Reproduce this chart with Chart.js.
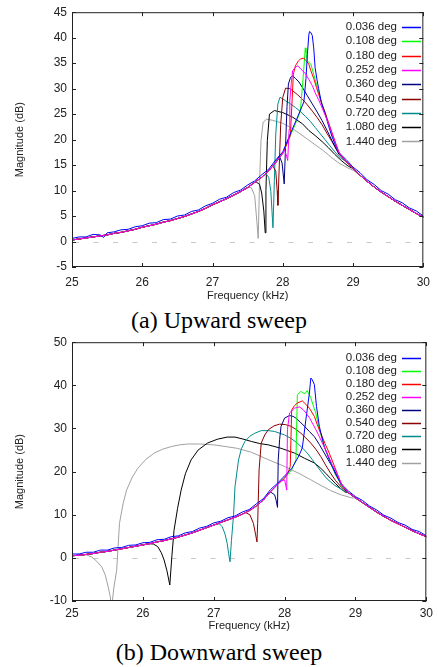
<!DOCTYPE html>
<html>
<head>
<meta charset="utf-8">
<script src="https://cdn.jsdelivr.net/npm/chart.js@4.4.0/dist/chart.umd.min.js"></script>
<style>
  html, body { margin: 0; padding: 0; background: #fff; }
  body { width: 438px; height: 667px; position: relative; overflow: hidden; }
  canvas { position: absolute; left: 0; }
  #up { top: 0; }
  #down { top: 330px; }
  .cap { position: absolute; left: 0; width: 438px; text-align: center; font-family: "Liberation Serif", "Times New Roman", serif; font-size: 24px; line-height: 24px; color: #000; }
</style>
</head>
<body>
<canvas id="up" width="438" height="305"></canvas>
<div class="cap" style="top:308px">(a) Upward sweep</div>
<canvas id="down" width="438" height="305"></canvas>
<div class="cap" style="top:640px">(b) Downward sweep</div>
<script>
// legend labels and colours (gnuplot defaults)
const labels = ["0.036 deg", "0.108 deg", "0.180 deg", "0.252 deg", "0.360 deg", "0.540 deg", "0.720 deg", "1.080 deg", "1.440 deg"];
const colors = ["#0000ff", "#00ff00", "#ff0000", "#ff00ff", "#000080", "#8b0000", "#008b8b", "#000000", "#a0a0a0"];
// draw order (lower = on top)
const drawOrder = [1, 3, 2, 0, 4, 5, 6, 7, 8];

const xTicks = [25, 26, 27, 28, 29, 30];
const upYTicks = [-5, 0, 5, 10, 15, 20, 25, 30, 35, 40, 45];
const downYTicks = [-10, 0, 10, 20, 30, 40, 50];

// ---- (a) upward sweep, [kHz, dB] ----
const upBase = [[25.0,0.3],[25.1,0.5],[25.2,0.7],[25.3,0.9],[25.4,1.1],[25.5,1.3],[25.6,1.6],[25.7,1.8],[25.8,2.1],[25.9,2.4],[26.0,2.8],[26.1,3.1],[26.2,3.4],[26.3,3.8],[26.4,4.1],[26.5,4.5],[26.6,4.9],[26.7,5.4],[26.8,5.9],[26.9,6.5],[27.0,7.2],[27.1,7.8],[27.2,8.4],[27.3,9.1],[27.4,9.8],[27.5,10.6],[27.6,11.6],[27.7,12.6],[27.8,13.9],[27.9,15.5],[28.0,17.3],[28.1,20.5],[28.2,23.8],[28.3,27.4]];
const upTail = [[28.8,17.0],[28.9,15.7],[29.0,14.3],[29.1,13.0],[29.2,11.8],[29.3,10.7],[29.4,9.7],[29.5,8.8],[29.6,7.9],[29.7,7.1],[29.8,6.3],[29.9,5.5],[30.0,4.8]];
const upBlueBase = [[25.0,0.6],[25.1,0.9],[25.2,0.9],[25.3,1.4],[25.4,1.3],[25.45,0.8],[25.5,1.7],[25.6,1.9],[25.7,2.3],[25.8,2.4],[25.9,2.9],[26.0,3.1],[26.1,3.6],[26.2,3.7],[26.3,4.3],[26.4,4.4],[26.5,5.0],[26.6,5.2],[26.7,5.9],[26.8,6.2],[26.9,7.0],[27.0,7.5],[27.1,8.3],[27.2,8.7],[27.3,9.6],[27.4,10.1],[27.5,11.1],[27.6,11.9],[27.7,13.1],[27.8,14.2],[27.9,16.0],[28.0,17.6],[28.1,20.9],[28.2,24.1]];
const upBlueTail = [[28.9,16.1],[29.0,14.6],[29.1,13.5],[29.2,12.1],[29.3,11.2],[29.4,10.0],[29.5,9.3],[29.6,8.2],[29.7,7.6],[29.8,6.6],[29.9,6.0],[30.0,5.0]];

const up036 = [[28.30,27.4],[28.33,32.0],[28.35,36.7],[28.37,40.5],[28.38,41.2],[28.40,41.0],[28.42,40.4],[28.44,38.0],[28.46,34.1],[28.49,31.5],[28.51,30.0],[28.55,27.2],[28.60,25.2],[28.65,22.8],[28.70,20.6],[28.75,18.9],[28.80,17.4]];
const up108 = [[28.25,25.6],[28.29,32.2],[28.32,38.0],[28.33,37.0],[28.35,35.4],[28.40,34.8],[28.44,32.8],[28.48,30.8],[28.51,29.4],[28.55,27.4],[28.60,25.4],[28.65,23.0],[28.70,20.8],[28.75,19.0],[28.80,17.4]];
const up180 = [[28.11,21.4],[28.13,27.0],[28.15,32.8],[28.18,34.5],[28.22,35.4],[28.25,35.8],[28.30,36.0],[28.33,35.5],[28.37,34.8],[28.40,33.5],[28.44,32.0],[28.48,30.2],[28.51,28.9],[28.56,26.8],[28.60,25.4],[28.65,23.4],[28.70,21.4],[28.75,19.4],[28.80,17.5]];
const up252 = [[28.02,18.0],[28.05,17.0],[28.07,15.9],[28.09,22.0],[28.10,27.6],[28.12,31.0],[28.14,33.5],[28.18,34.2],[28.21,34.5],[28.26,33.8],[28.32,33.0],[28.37,31.8],[28.42,30.6],[28.46,29.2],[28.51,27.8],[28.56,26.2],[28.65,23.2],[28.72,20.4],[28.80,17.4]];
const up360 = [[27.95,16.8],[27.99,15.4],[28.02,11.3],[28.04,19.0],[28.06,26.5],[28.08,30.9],[28.11,32.2],[28.14,32.5],[28.18,32.0],[28.23,31.3],[28.28,30.2],[28.35,28.6],[28.42,27.0],[28.49,25.4],[28.56,23.7],[28.63,21.8],[28.70,19.8],[28.80,17.2]];
const up540 = [[27.86,14.8],[27.90,13.8],[27.92,10.0],[27.93,7.1],[27.95,15.0],[27.97,23.0],[28.00,28.3],[28.04,30.1],[28.10,30.0],[28.14,29.6],[28.21,28.8],[28.28,27.9],[28.35,26.8],[28.42,25.6],[28.49,24.3],[28.56,22.9],[28.63,21.2],[28.70,19.6],[28.80,17.1]];
const up720 = [[27.76,13.3],[27.80,12.6],[27.83,9.8],[27.86,2.7],[27.88,12.0],[27.90,21.1],[27.93,27.0],[27.96,28.3],[28.00,28.0],[28.04,27.6],[28.11,27.0],[28.18,26.3],[28.25,25.5],[28.32,24.6],[28.39,23.6],[28.46,22.4],[28.53,21.2],[28.60,20.0],[28.67,18.8],[28.74,17.6],[28.82,16.4]];
const up1080 = [[27.62,11.7],[27.67,11.2],[27.70,9.5],[27.73,6.0],[27.75,1.7],[27.76,10.0],[27.78,19.8],[27.81,25.0],[27.88,25.7],[28.00,25.3],[28.14,24.4],[28.28,23.1],[28.37,21.8],[28.46,20.8],[28.56,19.6],[28.65,18.4],[28.74,17.1],[28.84,15.8],[28.93,14.8]];
const up1440 = [[27.55,10.6],[27.60,9.0],[27.63,4.0],[27.65,0.6],[27.67,12.0],[27.69,19.8],[27.72,23.4],[27.77,24.0],[27.85,23.8],[28.00,23.2],[28.12,22.3],[28.23,21.3],[28.35,20.1],[28.46,19.0],[28.58,17.8],[28.70,16.4],[28.80,15.4],[28.93,14.4],[29.00,14.0]];

// ---- (b) downward sweep, [kHz, dB] ----
const downBase = [[25.0,0.5],[25.1,0.6],[25.2,0.8],[25.3,1.0],[25.4,1.3],[25.5,1.5],[25.6,1.8],[25.7,2.1],[25.8,2.4],[25.9,2.7],[26.0,3.0],[26.1,3.3],[26.2,3.7],[26.3,4.0],[26.4,4.4],[26.5,4.8],[26.6,5.3],[26.7,5.8],[26.8,6.4],[26.9,7.0],[27.0,7.6],[27.1,8.2],[27.2,8.8],[27.3,9.4],[27.4,10.1],[27.5,10.9],[27.6,12.0],[27.7,13.4],[27.8,15.3],[27.9,17.0],[28.0,18.5],[28.1,20.4],[28.2,23.2],[28.3,27.0]];
const downTail = [[28.8,16.4],[28.9,15.1],[29.0,13.9],[29.1,12.8],[29.2,11.7],[29.3,10.6],[29.4,9.6],[29.5,8.7],[29.6,7.9],[29.7,7.1],[29.8,6.3],[29.9,5.6],[30.0,4.9]];
const downBlueBase = [[25.0,0.9],[25.1,0.9],[25.2,1.3],[25.3,1.3],[25.4,1.8],[25.5,1.8],[25.6,2.3],[25.7,2.4],[25.8,2.9],[25.9,3.0],[26.0,3.5],[26.1,3.6],[26.2,4.2],[26.3,4.3],[26.4,4.9],[26.5,5.1],[26.6,5.8],[26.7,6.1],[26.8,6.9],[26.9,7.3],[27.0,8.1],[27.1,8.5],[27.2,9.3],[27.3,9.7],[27.4,10.6],[27.5,11.2],[27.6,12.5],[27.7,13.7],[27.8,15.8],[27.9,17.3],[28.0,19.0],[28.1,20.7],[28.2,23.6]];
const downBlueTail = [[28.9,15.5],[29.0,14.2],[29.1,13.3],[29.2,12.0],[29.3,11.1],[29.4,9.9],[29.5,9.2],[29.6,8.2],[29.7,7.6],[29.8,6.6],[29.9,6.1],[30.0,5.1]];

const down036 = [[28.25,25.5],[28.30,32.0],[28.35,38.2],[28.37,41.7],[28.39,41.3],[28.42,40.2],[28.45,35.1],[28.49,30.5],[28.56,25.8],[28.65,22.0],[28.72,19.4],[28.80,17.1]];
const down108 = [[28.12,21.2],[28.16,22.7],[28.18,37.8],[28.23,38.6],[28.26,38.2],[28.29,38.1],[28.32,38.8],[28.37,37.1],[28.40,35.5],[28.44,33.6],[28.49,29.7],[28.56,25.8],[28.65,22.0],[28.72,19.2],[28.80,17.0]];
const down180 = [[28.05,19.8],[28.08,21.2],[28.10,34.3],[28.14,35.3],[28.18,35.9],[28.25,36.4],[28.30,35.6],[28.35,34.7],[28.42,32.8],[28.46,30.9],[28.51,28.9],[28.57,26.5],[28.63,24.3],[28.70,21.4],[28.75,19.2],[28.80,17.2]];
const down252 = [[27.95,17.8],[28.00,18.1],[28.03,15.7],[28.04,29.7],[28.07,33.6],[28.14,34.7],[28.21,35.0],[28.26,34.4],[28.30,33.6],[28.35,32.5],[28.39,31.3],[28.44,29.8],[28.49,28.1],[28.55,26.0],[28.60,24.3],[28.67,21.7],[28.74,19.6],[28.80,17.2]];
const down360 = [[27.80,15.3],[27.86,14.6],[27.88,13.4],[27.90,11.7],[27.91,22.7],[27.93,27.5],[27.95,30.5],[28.00,32.4],[28.07,33.0],[28.12,32.8],[28.16,32.4],[28.22,31.5],[28.28,30.5],[28.35,29.3],[28.42,28.1],[28.49,26.3],[28.56,24.3],[28.63,22.3],[28.70,20.4],[28.75,18.6],[28.80,16.8]];
const down540 = [[27.45,10.5],[27.51,10.0],[27.56,8.0],[27.59,5.5],[27.61,3.7],[27.62,8.0],[27.64,20.4],[27.67,26.6],[27.72,28.5],[27.77,29.7],[27.85,30.6],[27.93,31.0],[28.01,30.9],[28.09,30.5],[28.16,29.8],[28.23,28.9],[28.30,27.8],[28.37,26.6],[28.44,25.2],[28.51,23.5],[28.58,21.5],[28.65,19.6],[28.72,17.9],[28.80,16.4]];
const down720 = [[26.90,7.0],[27.00,7.6],[27.08,7.9],[27.12,7.2],[27.16,5.5],[27.19,3.3],[27.21,1.0],[27.23,-0.9],[27.25,4.0],[27.28,10.0],[27.30,16.5],[27.35,22.7],[27.39,25.3],[27.44,27.0],[27.51,28.2],[27.58,28.9],[27.67,29.5],[27.77,29.5],[27.86,29.3],[28.00,28.5],[28.09,27.7],[28.18,26.6],[28.25,25.5],[28.32,24.3],[28.39,22.8],[28.46,21.2],[28.53,19.7],[28.60,18.3],[28.70,16.9],[28.80,15.9]];
const down1080 = [[26.00,3.0],[26.07,3.3],[26.15,3.2],[26.21,2.6],[26.26,1.2],[26.30,-0.5],[26.34,-3.0],[26.38,-6.3],[26.41,0.5],[26.44,6.4],[26.49,11.5],[26.54,15.7],[26.60,19.5],[26.68,22.7],[26.78,25.0],[26.91,26.6],[27.05,27.5],[27.19,28.0],[27.30,28.0],[27.40,27.6],[27.53,27.0],[27.65,26.5],[27.77,26.2],[27.95,25.4],[28.14,24.3],[28.28,23.1],[28.42,22.0],[28.51,20.8],[28.58,19.6],[28.65,18.4],[28.72,17.2],[28.79,16.1],[28.85,15.3]];
const down1440 = [[25.20,0.7],[25.28,0.2],[25.35,-0.8],[25.42,-2.1],[25.47,-4.0],[25.51,-6.7],[25.54,-9.0],[25.56,-11.5],[25.59,-7.0],[25.63,-2.9],[25.67,8.0],[25.72,12.5],[25.77,15.7],[25.85,18.7],[25.93,20.8],[26.04,22.8],[26.16,24.3],[26.28,25.2],[26.40,25.8],[26.52,26.2],[26.63,26.4],[26.80,26.4],[27.00,26.2],[27.17,25.8],[27.33,25.4],[27.53,24.5],[27.75,22.9],[28.00,21.2],[28.20,19.6],[28.37,18.1],[28.50,16.9],[28.65,15.6],[28.80,14.6],[28.95,13.9]];

const upBranches = [up036, up108, up180, up252, up360, up540, up720, up1080, up1440];
const downBranches = [down036, down108, down180, down252, down360, down540, down720, down1080, down1440];

const FONT = '"Liberation Sans", Arial, Helvetica, sans-serif';
Chart.defaults.font.family = FONT;

function series(base, branch, tail) {
  const a = branch[0][0], b = branch[branch.length - 1][0];
  return base.filter(p => p[0] < a).concat(branch, tail.filter(p => p[0] > b))
    .map(p => ({ x: p[0], y: p[1] }));
}

function datasetsFor(branches, base, tail, blueBase, blueTail) {
  return branches.map((br, i) => ({
    label: labels[i],
    data: i === 0 ? series(blueBase, br, blueTail) : series(base, br, tail),
    borderColor: colors[i],
    backgroundColor: colors[i],
    borderWidth: 1,
    order: drawOrder[i],
    showLine: true,
    pointRadius: 0,
    fill: false
  }));
}

const framePlugin = {
  id: "frame",
  beforeDatasetsDraw(chart) {
    const { ctx, chartArea: a, scales: { y } } = chart;
    const y0 = Math.round(y.getPixelForValue(0)) + 0.5;
    ctx.save();
    ctx.strokeStyle = "#c8c8c8";
    ctx.lineWidth = 1;
    ctx.setLineDash([5, 14.5]);
    ctx.beginPath();
    ctx.moveTo(a.left + 2, y0);
    ctx.lineTo(a.right, y0);
    ctx.stroke();
    ctx.restore();
  },
  afterDatasetsDraw(chart, args, opts) {
    const { ctx, chartArea: a, scales: { x, y } } = chart;
    ctx.save();
    ctx.strokeStyle = "#222";
    ctx.lineWidth = 1;
    ctx.beginPath();
    xTicks.forEach(v => {
      const px = Math.round(x.getPixelForValue(v)) + 0.5;
      ctx.moveTo(px, a.bottom); ctx.lineTo(px, a.bottom - 4);
      ctx.moveTo(px, a.top); ctx.lineTo(px, a.top + 4);
    });
    opts.yTicks.forEach(v => {
      const py = Math.round(y.getPixelForValue(v)) + 0.5;
      ctx.moveTo(a.left, py); ctx.lineTo(a.left + 4, py);
      ctx.moveTo(a.right, py); ctx.lineTo(a.right - 4, py);
    });
    ctx.stroke();
    ctx.strokeRect(a.left + 0.5, a.top + 0.5, a.right - a.left - 1, a.bottom - a.top - 1);

    // key: text then line sample, top right
    ctx.font = "11.5px " + FONT;
    ctx.textAlign = "right";
    ctx.textBaseline = "middle";
    chart.data.datasets.forEach((ds, i) => {
      const ty = opts.legendTop + i * opts.legendStep;
      ctx.fillStyle = "#222";
      ctx.fillText(ds.label, 397, ty);
      ctx.strokeStyle = ds.borderColor;
      ctx.lineWidth = 1.5;
      ctx.beginPath();
      ctx.moveTo(402, Math.round(ty) + 0.5);
      ctx.lineTo(421, Math.round(ty) + 0.5);
      ctx.stroke();
    });
    ctx.restore();
  }
};

function makeChart(id, datasets, yMin, yMax, yTicks, cfg) {
  return new Chart(document.getElementById(id).getContext("2d"), {
    type: "scatter",
    data: { datasets },
    options: {
      responsive: false,
      animation: false,
      layout: { padding: { top: cfg.top, right: 8, left: 0, bottom: 0 } },
      plugins: {
        legend: { display: false },
        tooltip: { enabled: false },
        frame: { yTicks, legendTop: cfg.legendTop, legendStep: cfg.legendStep }
      },
      scales: {
        x: {
          type: "linear",
          min: 25,
          max: 30,
          afterBuildTicks: s => { s.ticks = xTicks.map(v => ({ value: v })); },
          afterFit: s => { s.height = cfg.xh; },
          grid: { display: false, drawTicks: false },
          border: { display: false },
          ticks: { font: { size: 12 }, color: "#222", padding: cfg.tickPad, maxRotation: 0 },
          title: { display: true, text: "Frequency (kHz)", font: { size: 11 }, color: "#222", padding: { top: 0, bottom: cfg.titlePad } }
        },
        y: {
          type: "linear",
          min: yMin,
          max: yMax,
          afterBuildTicks: s => { s.ticks = yTicks.map(v => ({ value: v })); },
          afterFit: s => { s.width = 72; },
          grid: { display: false, drawTicks: false },
          border: { display: false },
          ticks: { font: { size: 12 }, color: "#222", padding: 5 },
          title: { display: true, text: "Magnitude (dB)", font: { size: 11 }, color: "#222", padding: { top: 13, bottom: 0 } }
        }
      }
    },
    plugins: [framePlugin]
  });
}

makeChart("up", datasetsFor(upBranches, upBase, upTail, upBlueBase, upBlueTail), -5, 45, upYTicks,
  { top: 11, xh: 38, tickPad: 8, titlePad: 2, legendTop: 27, legendStep: 14.3 });
makeChart("down", datasetsFor(downBranches, downBase, downTail, downBlueBase, downBlueTail), -10, 50, downYTicks,
  { top: 12, xh: 34, tickPad: 5, titlePad: 2, legendTop: 27.7, legendStep: 13.1 });
</script>
</body>
</html>
